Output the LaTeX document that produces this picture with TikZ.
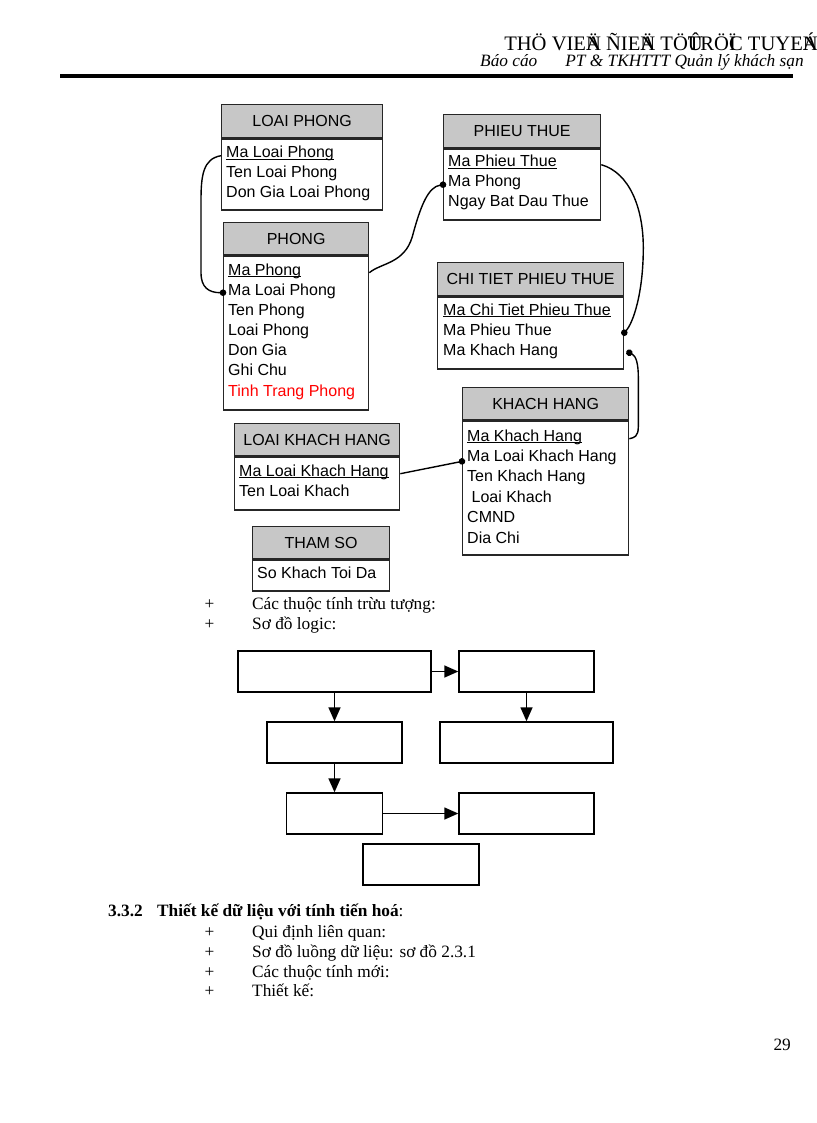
\documentclass[tikz,border=0pt]{standalone}
\usepackage{fontspec}
\setmainfont{Liberation Serif}
\newfontfamily\arialf{Liberation Sans}
\usetikzlibrary{arrows.meta,positioning}
\newcommand{\keyattr}[1]{\underline{\smash{#1}}}

\begin{document}
\begin{tikzpicture}[x=1pt,y=-1pt,
    tbl/.style={draw=black!85, line width=1.3pt, anchor=north west, inner sep=0pt},
    tblhead/.style={tbl, fill=black!22, font=\arialf\fontsize{16}{19}\selectfont},
    attr/.style={anchor=base west, inner sep=0pt, font=\arialf\fontsize{16}{19}\selectfont},
    link/.style={line width=1.4pt},
    dotend/.style={-{Circle[length=6.5pt]}, shorten >=-3.25pt},
    dotstart/.style={{Circle[length=6.5pt]}-, shorten <=-3.25pt},
    lbox/.style={draw, line width=1.4pt, inner sep=0pt, minimum height=41pt},
    flow/.style={-{Triangle[length=14pt,width=12pt]}, line width=1.5pt},
    txt/.style={anchor=base west, inner sep=0pt, font=\fontsize{17.3}{20}\selectfont}
]
    \fill[white] (0,0) rectangle (816,1123);
    \useasboundingbox (0,0) rectangle (816,1123);

    % Page header
    \node[anchor=base east, inner sep=0pt, font=\fontsize{20.6}{24}\selectfont] (hd1) at (818,51)
        {THÖ VIE\rlap{Ä}N ÑIE\rlap{Ä}N TÖ\rlap{Û}TRÖ\rlap{Ï}C TUYE\rlap{Á}N};
    \node[txt, font=\itshape\fontsize{17.3}{20}\selectfont] (hd2) at (480,67)
        {Báo cáo\hspace{28pt}PT \& TKHTTT Quản lý khách sạn};
    \draw[line width=3.5pt] (60,76) -- (793,76);

    % LOAI PHONG
    \node[tblhead, minimum width=161pt, minimum height=33pt] (lp) at (221,104) {LOAI PHONG};
    \node[tbl, minimum width=161pt, minimum height=71pt] (lpb) at (lp.south west) {};
    \node[attr] (lp1) at (226,158) {\keyattr{Ma Loai Phong}};
    \foreach \t [count=\i from 2] in {Ten Loai Phong, Don Gia Loai Phong}
        \node[attr] (lp\i) at (226,138+20*\i) {\t};

    % PHONG
    \node[tblhead, minimum width=145pt, minimum height=32pt] (ph) at (223,222) {PHONG};
    \node[tbl, minimum width=145pt, minimum height=154pt] (phb) at (ph.south west) {};
    \node[attr] (ph1) at (228,275) {\keyattr{Ma Phong}};
    \foreach \t [count=\i from 2] in {Ma Loai Phong, Ten Phong, Loai Phong, Don Gia, Ghi Chu}
        \node[attr] (ph\i) at (228,255+20*\i) {\t};
    \node[attr, red] (ph7) at (228,396) {Tinh Trang Phong};

    % PHIEU THUE
    \node[tblhead, minimum width=157pt, minimum height=33pt] (pt) at (443,114) {PHIEU THUE};
    \node[tbl, minimum width=157pt, minimum height=71pt] (ptb) at (pt.south west) {};
    \node[attr] (pt1) at (448,167) {\keyattr{Ma Phieu Thue}};
    \foreach \t [count=\i from 2] in {Ma Phong, Ngay Bat Dau Thue}
        \node[attr] (pt\i) at (448,147+20*\i) {\t};

    % CHI TIET PHIEU THUE
    \node[tblhead, minimum width=186pt, minimum height=33pt] (ct) at (437,262) {CHI TIET PHIEU THUE};
    \node[tbl, minimum width=186pt, minimum height=72pt] (ctb) at (ct.south west) {};
    \node[attr] (ct1) at (443,315) {\keyattr{Ma Chi Tiet Phieu Thue}};
    \foreach \t [count=\i from 2] in {Ma Phieu Thue, Ma Khach Hang}
        \node[attr] (ct\i) at (443,295+20*\i) {\t};

    % KHACH HANG
    \node[tblhead, minimum width=166pt, minimum height=32pt] (kh) at (462,387) {KHACH HANG};
    \node[tbl, minimum width=166pt, minimum height=134pt] (khb) at (kh.south west) {};
    \node[attr] (kh1) at (467,441) {\keyattr{Ma Khach Hang}};
    \foreach \t [count=\i from 2] in {Ma Loai Khach Hang, Ten Khach Hang, \ Loai Khach, CMND, Dia Chi}
        \node[attr] (kh\i) at (467,420.6+20.4*\i) {\t};

    % LOAI KHACH HANG
    \node[tblhead, minimum width=165pt, minimum height=32pt] (lk) at (234,423) {LOAI KHACH HANG};
    \node[tbl, minimum width=165pt, minimum height=53pt] (lkb) at (lk.south west) {};
    \node[attr] (lk1) at (239,476) {\keyattr{Ma Loai Khach Hang}};
    \node[attr] (lk2) at (239,496) {Ten Loai Khach};

    % THAM SO
    \node[tblhead, minimum width=137pt, minimum height=32pt] (ts) at (252,526) {THAM SO};
    \node[tbl, minimum width=137pt, minimum height=31pt] (tsb) at (ts.south west) {};
    \node[attr] (ts1) at (257,578) {So Khach Toi Da};

    % Links
    \draw[link, dotend] (lpb.west |- lp1.mid) .. controls +(-18,3) and +(0,-25) .. ++(-20,45)
        -- ++(0,72) .. controls +(0,15) and +(-14,0) .. (phb.west |- ph2.mid);
    \draw[link, dotend] (phb.east |- ph1.mid) .. controls +(12,-10) and +(-8,27) .. ++(43,-36)
        .. controls +(8,-30) and +(-15,2) .. (ptb.west |- pt2.mid);
    \draw[link, dotend] (ptb.east |- pt1.mid) .. controls +(28,8) and +(0,-40) .. ++(42,83)
        .. controls +(0,45) and +(9,-10) .. (ctb.east |- ct2.mid);
    \coordinate[xshift=5pt] (ctk) at (ctb.east |- ct3.mid);
    \draw[link, dotstart] (ctk) .. controls +(7,3) and +(0,-12) .. ++(9,24)
        -- ++(0,50) .. controls +(0,10) and +(5,-1) .. (khb.east |- kh1.mid);
    \draw[link, dotend] (lkb.east |- lk1.mid) -- (khb.west |- kh2.base);

    % Text
    \node[txt] (p1) at (204.5,609) {+};
    \node[txt] (attrs) at (252,609) {Các thuộc tính trừu tượng:};
    \node[txt] (p2) at (204.5,629) {+};
    \node[txt] (logic) at (252,629) {Sơ đồ logic:};

    % Logic diagram
    \node[lbox, minimum width=193pt] (s11) at (334.5,671.5) {};
    \node[lbox, minimum width=135pt] (s12) at (526.5,671.5) {};
    \node[lbox, minimum width=135pt] (s21) at (334.5,742.5) {};
    \node[lbox, minimum width=173pt] (s22) at (526.5,742.5) {};
    \node[lbox, minimum width=96pt] (s31) at (334.5,813.5) {};
    \node[lbox, minimum width=135pt] (s32) at (526.5,813.5) {};
    \node[lbox, minimum width=116pt] (s4) at (421,864.5) {};
    \draw[flow] (s11) -- (s12);
    \draw[flow] (s11) -- (s21);
    \draw[flow] (s12) -- (s22);
    \draw[flow] (s21) -- (s31);
    \draw[flow] (s31) -- (s32);

    % Section 3.3.2
    \node[txt, font=\bfseries\fontsize{17.3}{20}\selectfont] (secnum) at (108,916) {3.3.2};
    \node[txt] (sectitle) at (157,916) {\textbf{Thiết kế dữ liệu với tính tiến hoá}:};
    \foreach \t [count=\i from 0] in {Qui định liên quan:, Sơ đồ luồng dữ liệu: sơ đồ 2.3.1, Các thuộc tính mới:, Thiết kế:} {
        \node[txt] (sp\i) at (204.5,937.5+19.8*\i) {+};
        \node[txt] (item\i) at (252,937.5+19.8*\i) {\t};
    }

    \node[txt, anchor=base east] (pgnum) at (791,1050) {29};
\end{tikzpicture}
\end{document}
